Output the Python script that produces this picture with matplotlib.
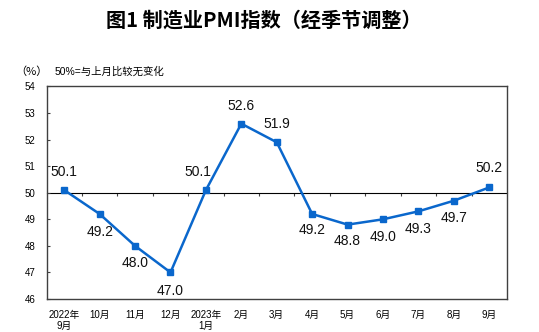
import matplotlib
matplotlib.use("Agg")
import matplotlib.pyplot as plt
import numpy as np

plt.rcParams["font.family"] = ["Liberation Sans", "Noto Sans CJK SC", "DejaVu Sans"]

# data
months = ["2022年\n9月", "10月", "11月", "12月", "2023年\n1月", "2月", "3月",
          "4月", "5月", "6月", "7月", "8月", "9月"]
pmi = [50.1, 49.2, 48.0, 47.0, 50.1, 52.6, 51.9, 49.2, 48.8, 49.0, 49.3, 49.7, 50.2]

# label offsets in points (dx, dy)
label_offsets = [(0, 13), (0, -13), (0, -12.5), (0, -13.5), (-5.5, 13), (0, 13), (0, 13),
                 (0, -11.5), (0, -11.5), (0, -12.5), (0, -12.5), (0, -12.5), (0, 14)]

blue = "#0a67cc"
spine_col = "#404040"

fig = plt.figure(figsize=(5.39, 3.32), dpi=100)
ax = fig.add_axes([0.0863, 0.0994, 0.9406 - 0.0863, 0.7395 - 0.0994])

x = np.arange(len(pmi))
ax.plot(x, pmi, color=blue, lw=1.8, marker="s", markersize=4.5, zorder=3)

for xi, v, (dx, dy) in zip(x, pmi, label_offsets):
    ax.annotate(f"{v:.1f}", (xi, v), xytext=(dx, dy), textcoords="offset points",
                ha="center", va="center", fontsize=10, color="#111111")

ax.set_xlim(-0.5, len(pmi) - 0.5)
ax.set_ylim(46, 54)
ax.set_yticks(range(46, 55))
ax.tick_params(axis="y", direction="in", length=2.5, width=0.8, color=spine_col,
               labelsize=7, pad=8)
ax.set_xticks(x)
ax.set_xticklabels(months, fontsize=7, linespacing=1.15, va="top")
ax.tick_params(axis="x", length=0, pad=8)

for s in ax.spines.values():
    s.set_color(spine_col)
    s.set_linewidth(1.0)

# horizontal line at 50 with boundary ticks
sec = ax.secondary_xaxis(0.5)
sec.set_xticks(np.arange(0.5, len(pmi) - 1, 1.0))
sec.tick_params(direction="in", length=2.5, width=0.8, color=spine_col, labelbottom=False)
sec.spines["bottom"].set_color(spine_col)
sec.spines["bottom"].set_linewidth(1.0)
sec.set_xticklabels([])

fig.text(0.49, 0.941, "图1 制造业PMI指数（经季节调整）", ha="center", va="center",
         fontsize=14.5, fontweight="bold", family=["Noto Sans CJK SC", "DejaVu Sans"])
fig.text(0.059, 0.783, "（%）", ha="center", va="center", fontsize=8,
         family=["Noto Sans CJK SC", "DejaVu Sans"])
fig.text(0.102, 0.783, "50%=与上月比较无变化", ha="left", va="center", fontsize=7.5)

fig.savefig("out.png", dpi=100)
